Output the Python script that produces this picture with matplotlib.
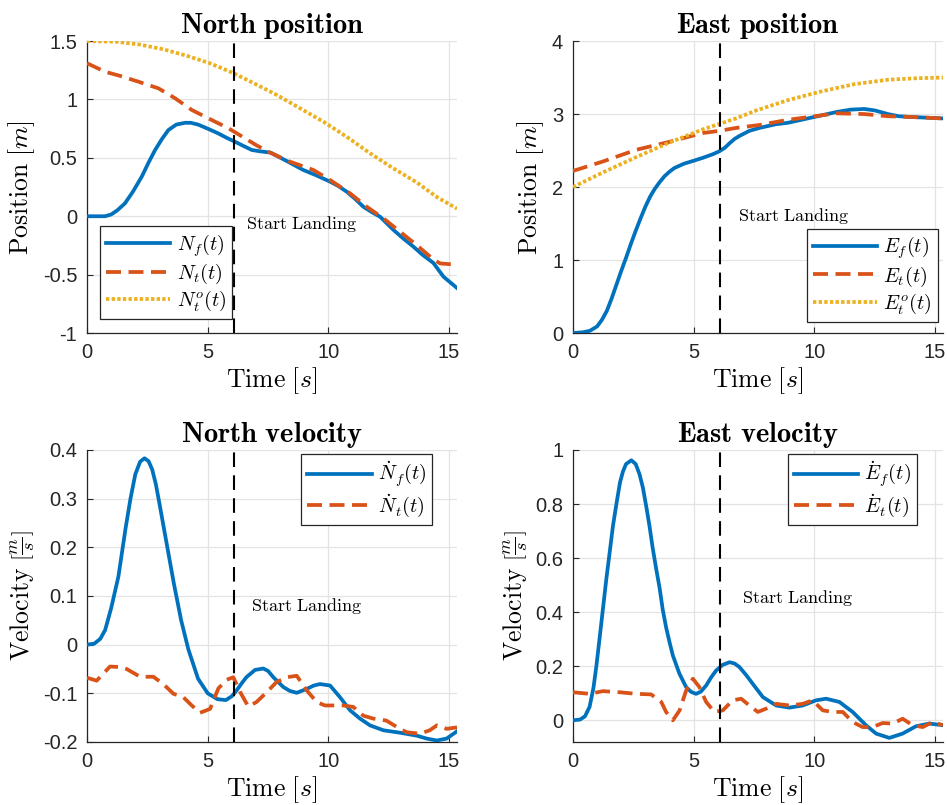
import matplotlib
matplotlib.use("Agg")
import matplotlib.pyplot as plt

plt.rcParams['font.family'] = ['Liberation Sans', 'DejaVu Sans']
plt.rcParams['mathtext.fontset'] = 'cm'
plt.rcParams['axes.unicode_minus'] = False

# ---- North position ----
t_north_f = [0, 0.4, 0.75, 1.0, 1.25, 1.57, 1.9, 2.27, 2.55, 2.82, 3.1, 3.37, 3.7, 4.06, 4.3,
             4.6, 5.0, 5.43, 5.8, 6.13, 6.5, 6.83, 7.2, 7.6, 8.3, 8.96, 9.5, 10.07, 10.4,
             10.76, 11.1, 11.45, 11.8, 12.14, 12.7, 13.1, 13.52, 13.9, 14.35, 14.77, 15.33]
north_f = [0, 0.0, 0.0, 0.015, 0.05, 0.11, 0.21, 0.34, 0.46, 0.567, 0.66, 0.738, 0.785, 0.80,
           0.80, 0.785, 0.75, 0.71, 0.67, 0.638, 0.6, 0.567, 0.555, 0.545, 0.47, 0.396, 0.35,
           0.296, 0.26, 0.21, 0.15, 0.081, 0.035, -0.004, -0.118, -0.19, -0.26, -0.33, -0.40,
           -0.518, -0.615]

t_north_t = [0, 0.75, 1.4, 2.13, 2.96, 3.65, 4.34, 5.03, 5.86, 6.55, 7.0, 7.51, 8.41, 9.38,
             10.07, 10.9, 11.59, 12.28, 12.97, 13.66, 14.35, 14.63, 15.0, 15.33]
north_t = [1.31, 1.237, 1.2, 1.152, 1.095, 1.01, 0.91, 0.838, 0.753, 0.667, 0.61, 0.552,
           0.467, 0.396, 0.31, 0.196, 0.081, -0.018, -0.133, -0.247, -0.37, -0.404, -0.41,
           -0.41]

t_north_o = [0, 1.22, 2.18, 3.15, 4.12, 5.09, 6.06, 6.9, 7.85, 8.82, 9.79, 10.76, 11.72,
             12.69, 13.66, 14.49, 15.33]
north_o = [1.5, 1.494, 1.47, 1.43, 1.375, 1.31, 1.226, 1.14, 1.04, 0.925, 0.81, 0.68, 0.54,
           0.41, 0.29, 0.165, 0.065]

# ---- East position ----
t_east_f = [0, 0.41, 0.7, 1.0, 1.2, 1.4, 1.6, 1.8, 2.0, 2.2, 2.4, 2.6, 2.8, 3.0, 3.2, 3.4,
            3.6, 3.8, 4.0, 4.2, 4.4, 4.6, 5.0, 5.38, 5.8, 6.07, 6.3, 6.49, 6.7, 6.9, 7.31,
            7.73, 8.4, 8.9, 10.0, 10.95, 11.5, 12.06, 12.5, 13.05, 13.5, 14.0, 15.33]
east_f = [0, 0.01, 0.03, 0.09, 0.18, 0.3, 0.47, 0.66, 0.85, 1.03, 1.22, 1.4, 1.57, 1.73,
          1.87, 1.98, 2.07, 2.15, 2.21, 2.26, 2.29, 2.32, 2.36, 2.4, 2.45, 2.49, 2.54, 2.6,
          2.66, 2.7, 2.77, 2.81, 2.86, 2.88, 2.96, 3.03, 3.06, 3.07, 3.05, 3.0, 2.97, 2.96,
          2.94]

t_east_t = [0, 1.24, 2.62, 4.0, 5.38, 6.07, 6.76, 7.72, 8.9, 10.0, 10.95, 12.06, 13.05, 14.0,
            15.33]
east_t = [2.22, 2.35, 2.51, 2.62, 2.74, 2.77, 2.81, 2.85, 2.92, 2.97, 3.01, 3.0, 2.97, 2.96,
          2.94]

t_east_o = [0, 1.24, 2.62, 4.0, 5.38, 6.76, 7.6, 8.9, 10.29, 11.67, 13.05, 14.2, 15.33]
east_o = [2.0, 2.2, 2.41, 2.61, 2.79, 2.94, 3.05, 3.19, 3.31, 3.41, 3.47, 3.49, 3.5]

# ---- North velocity ----
t_vn_f = [0, 0.3, 0.55, 0.75, 1.0, 1.3, 1.6, 1.8, 2.0, 2.2, 2.38, 2.55, 2.7, 2.85, 3.0, 3.2,
          3.4, 3.6, 3.9, 4.2, 4.6, 5.0, 5.4, 5.75, 6.0, 6.2, 6.4, 6.6, 6.96, 7.3, 7.5, 7.72,
          8.13, 8.4, 8.69, 9.1, 9.4, 9.65, 10.07, 10.48, 10.9, 11.31, 11.73, 12.28, 12.97,
          13.66, 14.07, 14.49, 14.9, 15.33]
vn_f = [0, 0.002, 0.012, 0.03, 0.075, 0.14, 0.24, 0.30, 0.35, 0.376, 0.383, 0.377, 0.36,
        0.33, 0.29, 0.235, 0.18, 0.125, 0.05, -0.01, -0.07, -0.1, -0.112, -0.114, -0.106,
        -0.094, -0.08, -0.067, -0.052, -0.049, -0.054, -0.067, -0.087, -0.095, -0.099,
        -0.091, -0.084, -0.081, -0.084, -0.108, -0.135, -0.152, -0.166, -0.176, -0.181,
        -0.187, -0.193, -0.197, -0.193, -0.178]

t_vn_t = [0, 0.4, 0.95, 1.37, 1.64, 2.2, 2.75, 3.16, 3.58, 3.99, 4.34, 4.68, 5.1, 5.44, 5.79,
          6.06, 6.34, 6.68, 7.02, 7.44, 7.85, 8.27, 8.69, 9.1, 9.52, 9.86, 10.2, 10.62, 11.03,
          11.45, 11.86, 12.4, 12.83, 13.24, 13.8, 14.2, 14.49, 14.9, 15.33]
vn_t = [-0.068, -0.074, -0.045, -0.046, -0.05, -0.066, -0.066, -0.081, -0.101, -0.108, -0.125,
        -0.14, -0.132, -0.09, -0.072, -0.067, -0.097, -0.127, -0.118, -0.098, -0.077, -0.067,
        -0.064, -0.094, -0.118, -0.125, -0.125, -0.125, -0.128, -0.146, -0.152, -0.156,
        -0.169, -0.18, -0.183, -0.176, -0.166, -0.173, -0.17]

# ---- East velocity ----
t_ve_f = [0, 0.3, 0.5, 0.69, 0.85, 0.97, 1.1, 1.24, 1.38, 1.52, 1.66, 1.8, 1.95, 2.07, 2.2,
          2.42, 2.6, 2.76, 2.9, 3.04, 3.17, 3.3, 3.45, 3.59, 3.72, 3.86, 4.0, 4.14, 4.41, 4.69,
          4.9, 5.1, 5.3, 5.52, 5.72, 5.93, 6.2, 6.49, 6.7, 6.9, 7.2, 7.45, 7.87, 8.42, 8.97,
          9.52, 10.07, 10.49, 11.04, 11.59, 12.14, 12.56, 13.11, 13.66, 14.21, 14.76, 15.33]
ve_f = [0, 0.003, 0.015, 0.05, 0.12, 0.2, 0.3, 0.41, 0.52, 0.62, 0.72, 0.8, 0.88, 0.92, 0.948,
        0.962, 0.948, 0.91, 0.86, 0.79, 0.72, 0.64, 0.56, 0.49, 0.41, 0.344, 0.29, 0.24,
        0.173, 0.123, 0.105, 0.098, 0.106, 0.129, 0.158, 0.184, 0.205, 0.215, 0.21, 0.197,
        0.165, 0.135, 0.086, 0.055, 0.047, 0.055, 0.074, 0.08, 0.068, 0.031, -0.018, -0.049,
        -0.065, -0.049, -0.022, -0.012, -0.018]

t_ve_t = [0, 0.69, 1.24, 1.93, 2.62, 3.24, 3.66, 3.86, 4.14, 4.42, 4.69, 4.97, 5.24, 5.52,
          5.86, 6.21, 6.62, 6.97, 7.31, 7.66, 8.0, 8.42, 8.97, 9.52, 9.93, 10.35, 10.76, 11.18,
          11.59, 12.0, 12.42, 12.83, 13.25, 13.66, 14.07, 14.49, 14.9, 15.33]
ve_t = [0.104, 0.098, 0.108, 0.104, 0.098, 0.096, 0.068, 0.031, 0.0, 0.037, 0.11, 0.154, 0.123,
        0.068, 0.031, 0.037, 0.074, 0.08, 0.055, 0.031, 0.043, 0.061, 0.055, 0.061, 0.074,
        0.037, 0.031, 0.031, -0.006, -0.025, -0.025, -0.01, -0.012, 0.006, -0.018, -0.025,
        -0.006, -0.018]

t_landing = 6.1

BLUE = '#0072BD'
ORANGE = '#D95319'
YELLOW = '#EDB120'
LW = 2.7
DASH = (0, (4, 2))
DOT = (0, (0.9, 0.6))

fig = plt.figure(figsize=(9.47, 8.05), dpi=100)
W, H = 0.3907, 0.3627
ax_np = fig.add_axes([0.0919, 0.5863, W, H])
ax_ep = fig.add_axes([0.6050, 0.5863, W, H])
ax_nv = fig.add_axes([0.0919, 0.0783, W, H])
ax_ev = fig.add_axes([0.6050, 0.0783, W, H])


def style(ax, title, ylabel, ylim, yticks, yticklabels):
    ax.set_xlim(0, 15.33)
    ax.set_ylim(*ylim)
    ax.set_xticks([0, 5, 10, 15])
    ax.set_yticks(yticks)
    ax.set_yticklabels(yticklabels)
    ax.grid(True, color='#e3e3e3', linewidth=0.9)
    ax.set_axisbelow(True)
    for s in ('top', 'right'):
        ax.spines[s].set_visible(False)
    for s in ('left', 'bottom'):
        ax.spines[s].set_color('#262626')
        ax.spines[s].set_linewidth(0.9)
    ax.tick_params(direction='in', length=4, width=0.8, colors='#262626',
                   labelsize=14.5, pad=7)
    ax.set_title(title, fontsize=20.5, pad=6)
    ax.set_xlabel(r'$\mathrm{Time}\ [s]$', fontsize=18.5, labelpad=2.5)
    ax.set_ylabel(ylabel, fontsize=18.5, labelpad=4)


def landing(ax, tx, ty):
    ax.axvline(t_landing, color='black', linewidth=1.5, linestyle=(0, (7, 4)), zorder=4)
    ax.text(tx, ty, r'$\mathrm{Start\ Landing}$', fontsize=13, ha='left', va='center')


def legend(ax, loc, anchor):
    leg = ax.legend(loc=loc, bbox_to_anchor=anchor, fontsize=14.5, frameon=True,
                    fancybox=False, framealpha=1, edgecolor='#262626',
                    handlelength=3.2, handletextpad=0.3, labelspacing=0.15,
                    borderpad=0.3, borderaxespad=0)
    leg.get_frame().set_linewidth(0.9)


# North position
ax = ax_np
ax.plot(t_north_f, north_f, color=BLUE, lw=LW, label=r'$N_f(t)$', zorder=3)
ax.plot(t_north_t, north_t, color=ORANGE, lw=LW, linestyle=DASH, label=r'$N_t(t)$', zorder=3)
ax.plot(t_north_o, north_o, color=YELLOW, lw=LW, linestyle=DOT, label=r'$N_t^o(t)$', zorder=3)
style(ax, r'$\mathbf{North\ position}$', r'$\mathrm{Position}\ [m]$', (-1, 1.5),
      [-1, -0.5, 0, 0.5, 1, 1.5], ['-1', '-0.5', '0', '0.5', '1', '1.5'])
landing(ax, 6.59, -0.067)
legend(ax, 'lower left', (0.035, 0.048))

# East position
ax = ax_ep
ax.plot(t_east_f, east_f, color=BLUE, lw=LW, label=r'$E_f(t)$', zorder=3)
ax.plot(t_east_t, east_t, color=ORANGE, lw=LW, linestyle=DASH, label=r'$E_t(t)$', zorder=3)
ax.plot(t_east_o, east_o, color=YELLOW, lw=LW, linestyle=DOT, label=r'$E_t^o(t)$', zorder=3)
style(ax, r'$\mathbf{East\ position}$', r'$\mathrm{Position}\ [m]$', (0, 4),
      [0, 1, 2, 3, 4], ['0', '1', '2', '3', '4'])
landing(ax, 6.83, 1.6)
legend(ax, 'lower right', (0.986, 0.038))

# North velocity
ax = ax_nv
ax.plot(t_vn_f, vn_f, color=BLUE, lw=LW, label=r'$\dot{N}_f(t)$', zorder=3)
ax.plot(t_vn_t, vn_t, color=ORANGE, lw=LW, linestyle=DASH, label=r'$\dot{N}_t(t)$', zorder=3)
style(ax, r'$\mathbf{North\ velocity}$', r'$\mathrm{Velocity}\ \left[\frac{m}{s}\right]$',
      (-0.2, 0.4), [-0.2, -0.1, 0, 0.1, 0.2, 0.3, 0.4],
      ['-0.2', '-0.1', '0', '0.1', '0.2', '0.3', '0.4'])
landing(ax, 6.78, 0.079)
legend(ax, 'upper right', (0.932, 0.986))

# East velocity
ax = ax_ev
ax.plot(t_ve_f, ve_f, color=BLUE, lw=LW, label=r'$\dot{E}_f(t)$', zorder=3)
ax.plot(t_ve_t, ve_t, color=ORANGE, lw=LW, linestyle=DASH, label=r'$\dot{E}_t(t)$', zorder=3)
style(ax, r'$\mathbf{East\ velocity}$', r'$\mathrm{Velocity}\ \left[\frac{m}{s}\right]$',
      (-0.08, 1.0), [0, 0.2, 0.4, 0.6, 0.8, 1.0], ['0', '0.2', '0.4', '0.6', '0.8', '1'])
landing(ax, 7.01, 0.454)
legend(ax, 'upper right', (0.93, 0.986))

fig.savefig('out.png', dpi=100)
